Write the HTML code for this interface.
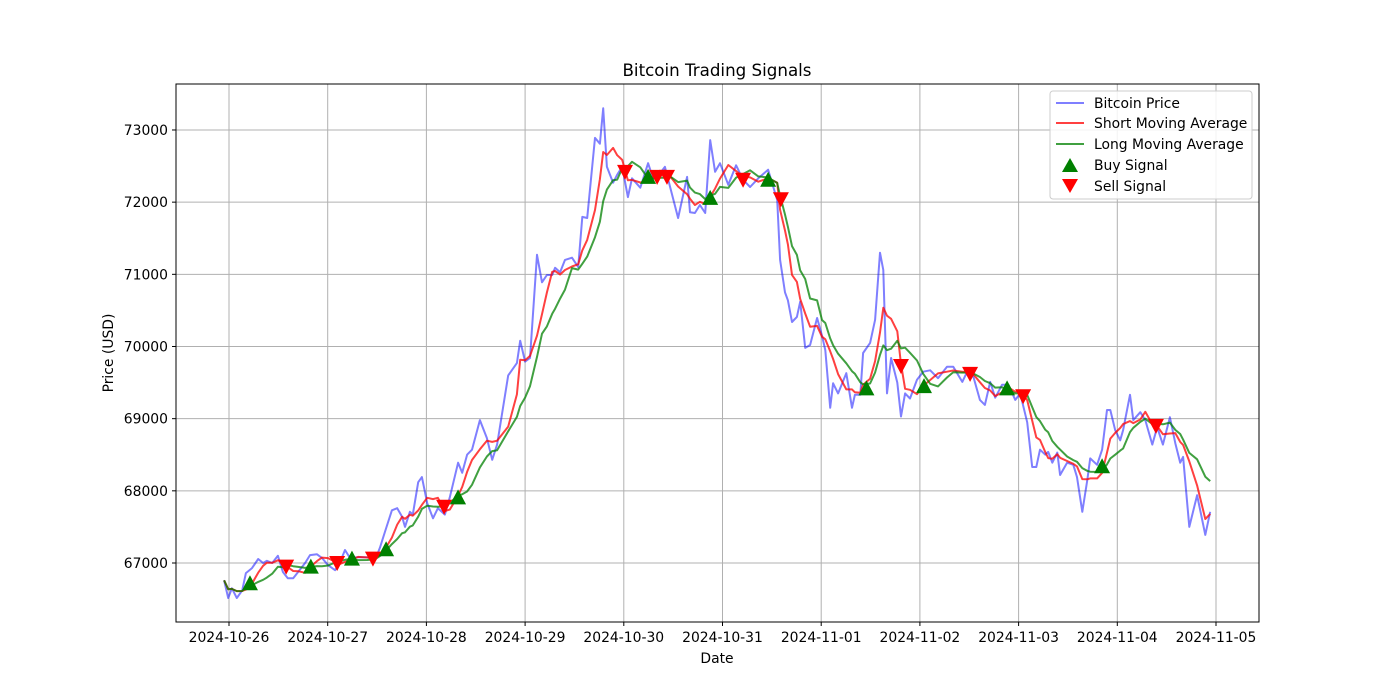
<!DOCTYPE html>
<html><head><meta charset="utf-8"><style>
html,body{margin:0;padding:0;background:#fff;}
svg{display:block;font-family:"DejaVu Sans","Liberation Sans",sans-serif;}
</style></head><body>
<svg id="chart" width="1400" height="700" viewBox="0 0 1400 700">
<rect x="0" y="0" width="1400" height="700" fill="#fff"/>
<g id="grid"></g>
<g id="series"></g>
<rect x="176" y="84" width="1083" height="538" fill="none" stroke="#000" stroke-width="1"/>
<g id="axes"></g>
<text x="717" y="76" font-size="16.7" text-anchor="middle">Bitcoin Trading Signals</text>
<text x="717" y="663" font-size="13.9" text-anchor="middle">Date</text>
<text x="113" y="353" font-size="13.9" text-anchor="middle" transform="rotate(-90 113 353)">Price (USD)</text>
<g>
<rect x="1050" y="91" width="202" height="108" rx="3" fill="#fff" fill-opacity="0.85" stroke="#ccc"/>
<g><line x1="1056" y1="103" x2="1084" y2="103" stroke="#0000ff" stroke-opacity="0.5" stroke-width="2"/><text x="1094" y="108" font-size="13.9">Bitcoin Price</text></g>
<g><line x1="1056" y1="123" x2="1084" y2="123" stroke="#ff0000" stroke-opacity="0.75" stroke-width="2"/><text x="1094" y="128" font-size="13.9">Short Moving Average</text></g>
<g><line x1="1056" y1="144" x2="1084" y2="144" stroke="#008000" stroke-opacity="0.75" stroke-width="2"/><text x="1094" y="149" font-size="13.9">Long Moving Average</text></g>
<g><polygon points="1070,158 1078,172 1062,172" fill="#008000"/><text x="1094" y="170" font-size="13.9">Buy Signal</text></g>
<g><polygon points="1062,179 1078,179 1070,193" fill="#ff0000"/><text x="1094" y="191" font-size="13.9">Sell Signal</text></g>
</g>
</svg>
<script>
// hours since 2024-10-26 00:00
const hours = [-1.2,-0.2,0.7,1.9,3.2,4.1,5.6,7.1,8.3,9.2,10.5,11.9,13.1,14.3,15.6,16.8,18.5,19.7,21.4,22.6,24.1,25.8,27.0,28.2,29.4,31.4,33.6,35.5,36.7,37.9,39.6,40.9,42.1,42.8,44.0,44.7,46.0,46.9,48.2,49.6,50.8,52.5,53.7,55.7,56.7,57.9,59.1,61.0,62.7,64.0,65.2,67.9,70.0,70.8,72.0,73.2,74.9,76.1,77.3,78.6,79.3,80.5,81.7,83.4,84.9,85.9,87.1,89.0,90.2,91.0,91.9,93.4,94.4,95.6,97.0,98.0,100.0,101.9,103.1,104.8,106.0,107.3,109.2,111.4,112.1,113.3,114.5,115.8,117.0,118.2,119.4,121.4,123.3,125.0,126.7,128.7,131.1,133.3,134.0,135.2,135.9,136.9,138.1,138.9,140.1,141.3,143.0,144.2,145.0,146.2,146.9,148.1,150.1,151.5,152.2,153.5,154.2,155.9,157.1,158.3,159.1,160.0,161.0,162.5,163.4,164.4,165.6,167.3,168.8,170.5,172.4,174.6,176.1,178.3,179.5,180.9,182.6,183.8,185.1,186.3,188.0,189.5,191.2,192.4,194.1,195.3,196.3,197.2,198.5,199.2,200.2,201.4,202.1,203.8,205.3,206.2,207.5,208.7,209.4,211.1,212.3,213.5,214.3,215.5,216.7,217.4,219.1,219.9,221.6,222.8,224.5,225.7,227.1,228.8,230.1,231.3,232.0,233.5,235.4,237.4,238.6];
const prices = [66760,66515,66650,66515,66620,66860,66930,67055,67000,67030,67000,67100,66875,66790,66790,66875,67000,67110,67120,67070,66970,66900,67010,67180,67070,67080,67080,67040,67210,67430,67730,67760,67640,67500,67710,67670,68120,68190,67830,67620,67760,67670,67910,68390,68250,68500,68570,68980,68730,68430,68640,69600,69770,70080,69790,69840,71270,70890,70990,70990,71090,71030,71200,71230,71100,71795,71780,72890,72810,73300,72490,72270,72380,72490,72070,72330,72200,72540,72330,72400,72490,72200,71780,72350,71860,71850,71960,71850,72860,72420,72540,72240,72510,72310,72210,72330,72450,72030,71200,70750,70640,70340,70410,70620,69980,70020,70395,70150,69950,69150,69490,69350,69630,69150,69330,69330,69910,70050,70370,71300,71060,69350,69840,69500,69030,69350,69280,69540,69650,69670,69560,69720,69720,69510,69650,69600,69260,69190,69510,69290,69470,69470,69260,69350,68950,68330,68330,68570,68500,68540,68390,68530,68220,68390,68360,68190,67710,68150,68450,68360,68570,69120,69120,68840,68700,68840,69330,68980,69090,68980,68640,68880,68640,69020,68660,68390,68470,67500,67940,67390,67710];
const buyHours = [5.1,19.9,29.9,38.2,55.7,101.9,117.0,131.1,155.0,169.0,189.2,212.3];
const buyValues = [66720,66950,67060,67190,67910,72350,72060,72310,69420,69450,69420,68340];
const sellHours = [13.9,26.3,35.0,52.3,96.3,104.1,106.5,125.0,134.2,163.4,180.2,193.1,225.4];
const sellValues = [66950,67000,67060,67780,72420,72350,72350,72310,72040,69730,69620,69310,68900];
const xTickLabels = ["2024-10-26","2024-10-27","2024-10-28","2024-10-29","2024-10-30","2024-10-31","2024-11-01","2024-11-02","2024-11-03","2024-11-04","2024-11-05"];
const yTickValues = [67000,68000,69000,70000,71000,72000,73000];
const shortWindowHours = 5;
const longWindowHours = 10;

const NS = "http://www.w3.org/2000/svg";
const X0 = 229, PX_PER_HOUR = 98.7/24;
const Y0 = 563, PX_PER_USD = 72.17/1000;
function xs(h){ return X0 + h*PX_PER_HOUR; }
function ys(v){ return Y0 - (v-67000)*PX_PER_USD; }
function mk(tag, attrs, parent){
  const e = document.createElementNS(NS, tag);
  for (const k in attrs) e.setAttribute(k, attrs[k]);
  parent.appendChild(e);
  return e;
}
const grid = document.getElementById('grid');
const axes = document.getElementById('axes');
const series = document.getElementById('series');

xTickLabels.forEach((lab, i) => {
  const x = xs(i*24);
  const gl = mk('line', {x1:x, y1:84, x2:x, y2:622, stroke:'#b0b0b0', 'stroke-width':1}, grid);
  
  
  const tk = mk('line', {x1:x, y1:622, x2:x, y2:626, stroke:'#000'}, axes);
  
  
  const t = mk('text', {x:x, y:642, 'font-size':13.9, 'text-anchor':'middle'}, axes);
  t.textContent = lab;
  
  
});
yTickValues.forEach(v => {
  const y = ys(v);
  const gl = mk('line', {x1:176, y1:y, x2:1259, y2:y, stroke:'#b0b0b0', 'stroke-width':1}, grid);
  
  
  const tk = mk('line', {x1:172, y1:y, x2:176, y2:y, stroke:'#000'}, axes);
  
  
  const t = mk('text', {x:168, y:y+5, 'font-size':13.9, 'text-anchor':'end'}, axes);
  t.textContent = String(v);
  
  
});

function rolling(win){
  return prices.map((p, i) => {
    let s = 0, n = 0;
    for (let j = i; j >= 0 && hours[i]-hours[j] < win; j--) { s += prices[j]; n++; }
    return s/n;
  });
}
function pathOf(vals){
  return vals.map((v,i) => (i?'L':'M') + xs(hours[i]).toFixed(1) + ',' + ys(v).toFixed(1)).join(' ');
}
const pl = mk('path', {d:pathOf(prices), fill:'none', stroke:'#0000ff', 'stroke-opacity':0.5, 'stroke-width':2, 'stroke-linejoin':'round'}, series);


const sl = mk('path', {d:pathOf(rolling(shortWindowHours)), fill:'none', stroke:'#ff0000', 'stroke-opacity':0.75, 'stroke-width':2, 'stroke-linejoin':'round'}, series);


const ll = mk('path', {d:pathOf(rolling(longWindowHours)), fill:'none', stroke:'#008000', 'stroke-opacity':0.75, 'stroke-width':2, 'stroke-linejoin':'round'}, series);



buyHours.forEach((h, i) => {
  const x = xs(h), y = ys(buyValues[i]);
  const p = mk('polygon', {points:`${x},${y-8} ${x+8},${y+7} ${x-8},${y+7}`, fill:'#008000'}, series);
  
  
});
sellHours.forEach((h, i) => {
  const x = xs(h), y = ys(sellValues[i]);
  const p = mk('polygon', {points:`${x-8},${y-7} ${x+8},${y-7} ${x},${y+8}`, fill:'#ff0000'}, series);
  
  
});
</script>
</body></html>
